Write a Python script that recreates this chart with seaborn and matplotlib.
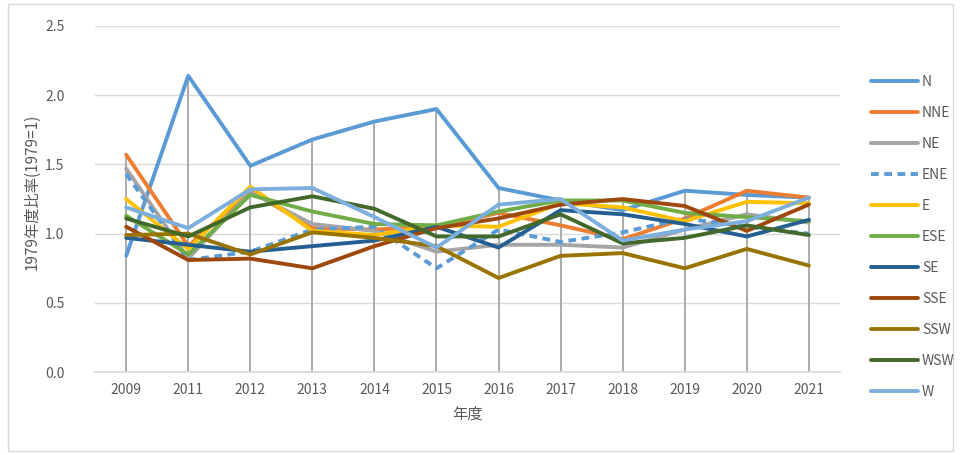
import matplotlib
matplotlib.use("Agg")
import matplotlib.pyplot as plt
import seaborn as sns
import pandas as pd
from matplotlib.lines import Line2D
from matplotlib.patches import Rectangle

years = ["2009", "2011", "2012", "2013", "2014", "2015", "2016", "2017", "2018", "2019", "2020", "2021"]
series_names = ["N", "NNE", "NE", "ENE", "E", "ESE", "SE", "SSE", "SSW", "WSW", "W"]

N   = [0.84, 2.14, 1.49, 1.68, 1.81, 1.90, 1.33, 1.24, 1.17, 1.31, 1.28, 1.26]
NNE = [1.57, 0.91, 1.31, 1.04, 1.03, 1.05, 1.15, 1.06, 0.96, 1.11, 1.31, 1.26]
NE  = [1.47, 0.82, 1.30, 1.07, 1.02, 0.87, 0.92, 0.92, 0.90, 1.03, 1.14, 1.08]
ENE = [1.43, 0.81, 0.87, 1.03, 1.05, 0.75, 1.03, 0.94, 1.01, 1.11, 1.05, 1.00]
E   = [1.25, 0.89, 1.34, 1.02, 0.99, 1.06, 1.05, 1.22, 1.19, 1.09, 1.23, 1.22]
ESE = [1.13, 0.85, 1.28, 1.16, 1.07, 1.06, 1.16, 1.24, 1.24, 1.15, 1.12, 1.09]
SE  = [0.97, 0.92, 0.87, 0.91, 0.95, 1.05, 0.90, 1.17, 1.14, 1.07, 0.98, 1.10]
SSE = [1.05, 0.81, 0.82, 0.75, 0.91, 1.04, 1.11, 1.21, 1.25, 1.20, 1.02, 1.21]
SSW = [0.99, 1.00, 0.85, 1.01, 0.97, 0.91, 0.68, 0.84, 0.86, 0.75, 0.89, 0.77]
WSW = [1.11, 0.98, 1.19, 1.27, 1.18, 0.98, 0.98, 1.14, 0.93, 0.97, 1.06, 0.99]
W   = [1.19, 1.04, 1.32, 1.33, 1.12, 0.90, 1.21, 1.25, 0.95, 1.03, 1.09, 1.26]

values = [N, NNE, NE, ENE, E, ESE, SE, SSE, SSW, WSW, W]
colors = ["#5B9BD5", "#ED7D31", "#A5A5A5", "#5B9BD5", "#FFC000", "#70AD47",
          "#255E91", "#9E480E", "#997300", "#43682B", "#7CAFDD"]
palette = dict(zip(series_names, colors))

rows = []
for name, vals in zip(series_names, values):
    for i, (yr, v) in enumerate(zip(years, vals)):
        rows.append({"pos": i, "year": yr, "series": name, "value": v})
df = pd.DataFrame(rows)

sns.set_theme(style="white")
plt.rcParams["font.family"] = ["Noto Sans CJK JP", "DejaVu Sans"]

fig = plt.figure(figsize=(9.61, 4.55), dpi=100)
ax = fig.add_axes([0.099, 0.182, 0.775, 0.761])

# outer chart border
fig.patches.append(Rectangle((0.008, 0.008), 0.984, 0.984, transform=fig.transFigure,
                             fill=False, edgecolor="#D9D9D9", linewidth=1.0))

# drop lines
maxes = df.groupby("pos")["value"].max()
ax.vlines(maxes.index, 0, maxes.values, color="#A5A5A5", linewidth=1.3, zorder=1)

dashes = {n: (2.0, 1.4) if n == "ENE" else "" for n in series_names}
sns.lineplot(data=df, x="pos", y="value", hue="series", style="series",
             hue_order=series_names, style_order=series_names,
             palette=palette, dashes=dashes, linewidth=2.8, ax=ax,
             legend=False, zorder=3)

ax.set_xlim(-0.5, len(years) - 0.5)
ax.set_ylim(0, 2.5)
ax.set_yticks([0, 0.5, 1.0, 1.5, 2.0, 2.5])
ax.set_yticklabels(["0.0", "0.5", "1.0", "1.5", "2.0", "2.5"])
ax.set_xticks(range(len(years)))
ax.set_xticklabels(years)
ax.yaxis.grid(True, color="#D9D9D9", linewidth=1.0)
ax.set_axisbelow(True)
for s in ["top", "right", "left"]:
    ax.spines[s].set_visible(False)
ax.spines["bottom"].set_color("#D9D9D9")
ax.tick_params(axis="both", length=0, labelsize=10, labelcolor="#595959", pad=8)
ax.tick_params(axis="y", pad=22)
ax.set_xlabel("年度", fontsize=11, color="#595959", labelpad=6)
ax.set_ylabel("1979年度比率(1979=1)", fontsize=11, color="#595959")
ax.yaxis.set_label_coords(-0.074, 0.52)

handles = []
for n, c in zip(series_names, colors):
    ls = (0, (2.0, 1.4)) if n == "ENE" else "-"
    handles.append(Line2D([0], [0], color=c, linewidth=2.8, linestyle=ls))
leg = fig.legend(handles, series_names, loc="upper left", bbox_to_anchor=(0.893, 0.862),
                 frameon=False, fontsize=10, handlelength=3.4, handletextpad=0.3,
                 labelspacing=1.22, labelcolor="#595959")

fig.savefig("out.png", dpi=100)
